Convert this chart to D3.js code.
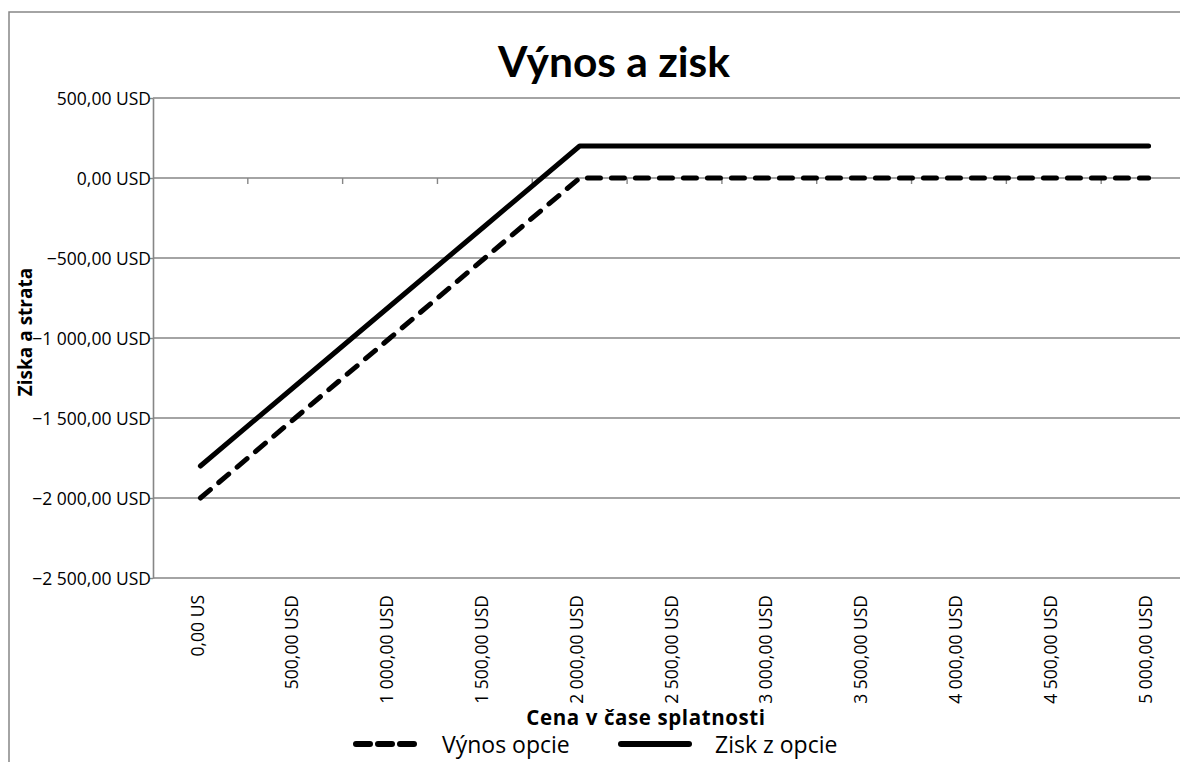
<!DOCTYPE html>
<html>
<head>
<meta charset="utf-8">
<script src="https://cdn.jsdelivr.net/npm/d3@7"></script>
<style>
  html, body { margin: 0; padding: 0; background: #fff; }
  svg { display: block; }
</style>
</head>
<body>
<svg id="chart" width="1180" height="762"></svg>
<script>
// ---- data ----
const prices = [0, 500, 1000, 1500, 2000, 2500, 3000, 3500, 4000, 4500, 5000];
const xTickLabels = ["0,00 US", "500,00 USD", "1 000,00 USD", "1 500,00 USD", "2 000,00 USD", "2 500,00 USD",
                     "3 000,00 USD", "3 500,00 USD", "4 000,00 USD", "4 500,00 USD", "5 000,00 USD"];
const payoff = [-2000, -1500, -1000, -500, 0, 0, 0, 0, 0, 0, 0];          // Výnos opcie
const profit = [-1800, -1300, -800, -300, 200, 200, 200, 200, 200, 200, 200]; // Zisk z opcie
const yTicks = [500, 0, -500, -1000, -1500, -2000, -2500];
const yTickLabels = ["500,00 USD", "0,00 USD", "\u2212500,00 USD", "\u22121 000,00 USD",
                     "\u22121 500,00 USD", "\u22122 000,00 USD", "\u22122 500,00 USD"];
const seriesNames = ["Výnos opcie", "Zisk z opcie"];
const title = "Výnos a zisk";
const xTitle = "Cena v čase splatnosti";
const yTitle = "Ziska a strata";

// ---- layout ----
const svg = d3.select("#chart");
const plot = { left: 153, right: 1196, top: 98, bottom: 578 };
const gridColor = "#868686";
const tickFont = "'Open Sans', sans-serif";
const tickSize = 17.5;

const x = d3.scaleBand().domain(prices).range([plot.left, plot.right]).paddingInner(0).paddingOuter(0);
const cx = d => x(d) + x.bandwidth() / 2;
const y = d3.scaleLinear().domain([-2500, 500]).range([plot.bottom, plot.top]);

// outer chart border
svg.append("rect")
  .attr("x", 9).attr("y", 12).attr("width", 1300).attr("height", 900)
  .attr("fill", "none").attr("stroke", gridColor).attr("stroke-width", 1.5);

// title
svg.append("text")
  .attr("x", 614).attr("y", 77)
  .attr("text-anchor", "middle")
  .attr("font-family", "Lato, sans-serif").attr("font-weight", "bold")
  .attr("font-size", 42.5).attr("fill", "#000")
  .text(title);

// horizontal gridlines
svg.append("g")
  .selectAll("line").data(yTicks).join("line")
  .attr("x1", plot.left).attr("x2", plot.right)
  .attr("y1", d => y(d)).attr("y2", d => y(d))
  .attr("stroke", gridColor).attr("stroke-width", 1.4);

// y axis
const yAxis = d3.axisLeft(y).tickValues(yTicks).tickSize(3).tickSizeOuter(0)
  .tickFormat((d, i) => yTickLabels[i]);
const gy = svg.append("g").attr("transform", `translate(${plot.left},0)`).call(yAxis);
gy.select(".domain").attr("stroke", gridColor).attr("stroke-width", 1.6);
gy.selectAll(".tick line").attr("stroke", gridColor).attr("stroke-width", 1.4);
gy.selectAll(".tick text")
  .attr("x", -2).attr("dy", "0.35em")
  .attr("font-family", tickFont).attr("font-size", tickSize).attr("fill", "#000");

// x axis (category axis crossing at 0), ticks between categories
const boundaries = prices.slice(1).map(p => x(p));
svg.append("g").selectAll("line").data(boundaries).join("line")
  .attr("x1", d => d).attr("x2", d => d)
  .attr("y1", y(0)).attr("y2", y(0) + 6)
  .attr("stroke", gridColor).attr("stroke-width", 1.4);

// x tick labels, rotated, placed below the plot area
svg.append("g").selectAll("text").data(prices).join("text")
  .attr("transform", d => `translate(${cx(d) - 3},595) rotate(-90)`)
  .attr("text-anchor", "end").attr("dy", "0.35em")
  .attr("font-family", tickFont).attr("font-size", tickSize).attr("fill", "#000")
  .text((d, i) => xTickLabels[i]);

// axis titles
svg.append("text")
  .attr("x", 646).attr("y", 725).attr("text-anchor", "middle")
  .attr("font-family", tickFont).attr("font-weight", "bold").attr("font-size", 20.5)
  .attr("letter-spacing", 0.6)
  .attr("fill", "#000").text(xTitle);
svg.append("text")
  .attr("transform", "translate(32,332) rotate(-90)")
  .attr("text-anchor", "middle")
  .attr("font-family", tickFont).attr("font-weight", "bold").attr("font-size", 19)
  .attr("fill", "#000").text(yTitle);

// series lines
const line = d3.line().x(d => cx(d.p)).y(d => y(d.v));
const payoffPts = prices.map((p, i) => ({ p, v: payoff[i] }));
const profitPts = prices.map((p, i) => ({ p, v: profit[i] }));

svg.append("path").datum(payoffPts).attr("d", line)
  .attr("fill", "none").attr("stroke", "#000").attr("stroke-width", 5)
  .attr("stroke-dasharray", "13 11").attr("stroke-linecap", "round").attr("stroke-linejoin", "round");
svg.append("path").datum(profitPts).attr("d", line)
  .attr("fill", "none").attr("stroke", "#000").attr("stroke-width", 5)
  .attr("stroke-linecap", "round").attr("stroke-linejoin", "round");

// legend
const leg = svg.append("g");
leg.append("line").attr("x1", 356).attr("x2", 415).attr("y1", 744).attr("y2", 744)
  .attr("stroke", "#000").attr("stroke-width", 6)
  .attr("stroke-dasharray", "14 8").attr("stroke-linecap", "round");
leg.append("text").attr("x", 442).attr("y", 753)
  .attr("font-family", tickFont).attr("font-size", 23).attr("fill", "#000")
  .text(seriesNames[0]);
leg.append("line").attr("x1", 621).attr("x2", 689).attr("y1", 744).attr("y2", 744)
  .attr("stroke", "#000").attr("stroke-width", 6).attr("stroke-linecap", "round");
leg.append("text").attr("x", 715).attr("y", 753)
  .attr("font-family", tickFont).attr("font-size", 23).attr("fill", "#000")
  .text(seriesNames[1]);
</script>
</body>
</html>
